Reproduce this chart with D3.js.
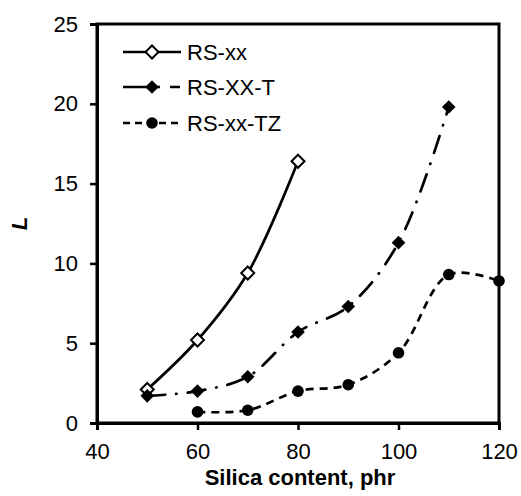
<!DOCTYPE html>
<html>
<head>
<meta charset="utf-8">
<script src="https://cdn.jsdelivr.net/npm/d3@7/dist/d3.min.js"></script>
<style>
  html, body { margin: 0; padding: 0; background: #fff; }
  svg text { font-family: "Liberation Sans", Arial, sans-serif; fill: #000; }
</style>
</head>
<body>
<svg id="chart" width="521" height="496"></svg>
<script>
// Silica loading (phr) and L values for each compound series
const xRSxx = [50, 60, 70, 80];
const yRSxx = [2.1, 5.2, 9.4, 16.4];

const xRSXXT = [50, 60, 70, 80, 90, 100, 110];
const yRSXXT = [1.7, 2.0, 2.9, 5.7, 7.3, 11.3, 19.8];

const xRSxxTZ = [60, 70, 80, 90, 100, 110, 120];
const yRSxxTZ = [0.7, 0.8, 2.0, 2.4, 4.4, 9.3, 8.9];

const seriesNames = ["RS-xx", "RS-XX-T", "RS-xx-TZ"];
const xTicks = [40, 60, 80, 100, 120];
const yTicks = [0, 5, 10, 15, 20, 25];

const svg = d3.select("#chart");
const margin = { left: 97, top: 24, right: 22, bottom: 73 };
const W = 521, H = 496;
const FONT = 22;

const x = d3.scaleLinear().domain([40, 120]).range([margin.left, W - margin.right]);
const y = d3.scaleLinear().domain([0, 25]).range([H - margin.bottom, margin.top]);

// Plot frame
svg.append("rect")
  .attr("x", x(40)).attr("y", y(25))
  .attr("width", x(120) - x(40)).attr("height", y(0) - y(25))
  .attr("fill", "none").attr("stroke", "#000").attr("stroke-width", 3);

// Axes
const xAxis = svg.append("g").attr("transform", `translate(0,${y(0)})`)
  .call(d3.axisBottom(x).tickValues(xTicks).tickSize(7).tickPadding(13));
const yAxis = svg.append("g").attr("transform", `translate(${x(40)},0)`)
  .call(d3.axisLeft(y).tickValues(yTicks).tickSize(7).tickPadding(12));
[xAxis, yAxis].forEach(g => {
  g.select(".domain").attr("stroke-width", 3);
  g.selectAll(".tick line").attr("stroke-width", 2.5);
  g.selectAll(".tick text").attr("font-size", FONT).attr("font-family", "Liberation Sans, Arial, sans-serif");
});

// Axis titles
svg.append("text")
  .attr("x", 300).attr("y", 485)
  .attr("text-anchor", "middle")
  .attr("font-size", FONT).attr("font-weight", "bold")
  .text("Silica content, phr");

svg.append("text")
  .attr("transform", `translate(27,${(y(0) + y(25)) / 2}) rotate(-90)`)
  .attr("text-anchor", "middle")
  .attr("font-size", FONT).attr("font-weight", "bold").attr("font-style", "italic")
  .text("L");

const line = d3.line()
  .x(d => x(d[0])).y(d => y(d[1]))
  .curve(d3.curveCatmullRom.alpha(0.5));

const styles = [
  { dash: null, cap: "butt", marker: "diamondOpen" },
  { dash: "18,11,0.5,11", cap: "round", marker: "diamond" },
  { dash: "8,6", cap: "butt", marker: "circle" }
];

const data = [
  d3.zip(xRSxx, yRSxx),
  d3.zip(xRSXXT, yRSXXT),
  d3.zip(xRSxxTZ, yRSxxTZ)
];

function drawMarker(g, kind, cx, cy) {
  if (kind === "circle") {
    g.append("circle").attr("cx", cx).attr("cy", cy).attr("r", 5.8).attr("fill", "#000");
  } else if (kind === "diamond") {
    const s = 6.8;
    g.append("path")
      .attr("d", `M${cx},${cy - s}L${cx + s},${cy}L${cx},${cy + s}L${cx - s},${cy}Z`)
      .attr("fill", "#000");
  } else {
    const s = 6.5;
    g.append("path")
      .attr("d", `M${cx},${cy - s}L${cx + s},${cy}L${cx},${cy + s}L${cx - s},${cy}Z`)
      .attr("fill", "#fff")
      .attr("stroke", "#000").attr("stroke-width", 2);
  }
}

data.forEach((pts, i) => {
  svg.append("path")
    .attr("d", line(pts))
    .attr("fill", "none").attr("stroke", "#000").attr("stroke-width", 2.7)
    .attr("stroke-dasharray", styles[i].dash)
    .attr("stroke-linecap", styles[i].cap);
});
// Markers drawn on top of all lines
data.forEach((pts, i) => {
  const g = svg.append("g");
  pts.forEach(p => drawMarker(g, styles[i].marker, x(p[0]), y(p[1])));
});

// Legend
const legY = [52, 87, 123];
const legDash = [null, "37,10,10,30", "7,5"];
seriesNames.forEach((name, i) => {
  const g = svg.append("g");
  const ly = legY[i];
  g.append("line")
    .attr("x1", 123).attr("x2", 181).attr("y1", ly).attr("y2", ly)
    .attr("stroke", "#000").attr("stroke-width", 2.7)
    .attr("stroke-dasharray", legDash[i]);
  drawMarker(g, styles[i].marker, 152, ly);
  g.append("text")
    .attr("x", 187).attr("y", ly + 8)
    .attr("font-size", FONT)
    .text(name);
});
</script>
</body>
</html>
